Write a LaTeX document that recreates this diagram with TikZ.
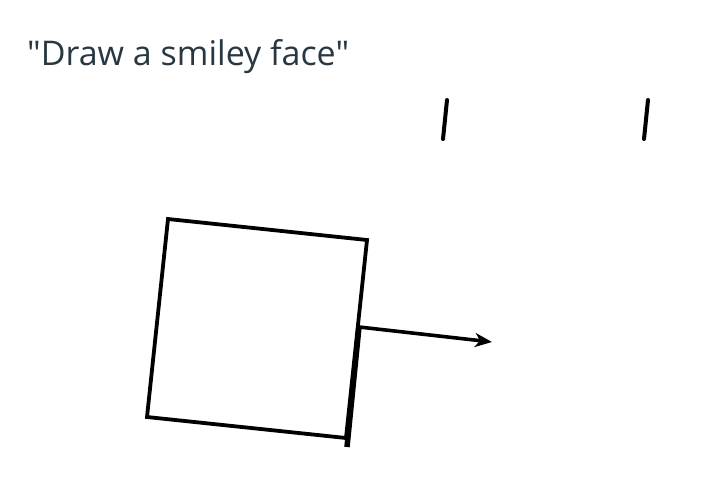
\documentclass[tikz,border=0pt]{standalone}
\usepackage{fontspec}
\newfontfamily\titlefont{Open Sans}
\usetikzlibrary{arrows.meta}
\definecolor{titlecol}{RGB}{40,55,65}
\begin{document}
\begin{tikzpicture}[x=1pt,y=-1pt,
  stroke/.style={line width=3.8pt,black,line join=miter},
  tick/.style={line width=4pt,black,line cap=round}]
\useasboundingbox (0,0) rectangle (720,480);
\node[anchor=base west,inner sep=0pt,text=titlecol,font=\titlefont\fontsize{34}{40}\selectfont] (title) at (27,65) {"Draw a smiley face"};
% ticks
\coordinate (t1a) at (447,100);
\coordinate (t1b) at (443,139);
\coordinate (t2a) at (648,100);
\coordinate (t2b) at (644,139);
\draw[tick] (t1a) -- (t1b);
\draw[tick] (t2a) -- (t2b);
% square
\coordinate (tl) at (168,219);
\coordinate (tr) at (367,240);
\coordinate (br) at (346,438);
\coordinate (bl) at (147,417);
\coordinate (rend) at (347,447);
\coordinate (as) at (359,327);
\coordinate (ae) at (492,342);
\draw[stroke] (br) -- (bl) -- (tl) -- (tr) -- (br);
\draw[line width=5.5pt,black] (as) -- (rend);
\draw[line width=3.6pt,black,-{Stealth[length=17pt,width=14pt,inset=5pt]}] (as) -- (ae);
\end{tikzpicture}
\end{document}
